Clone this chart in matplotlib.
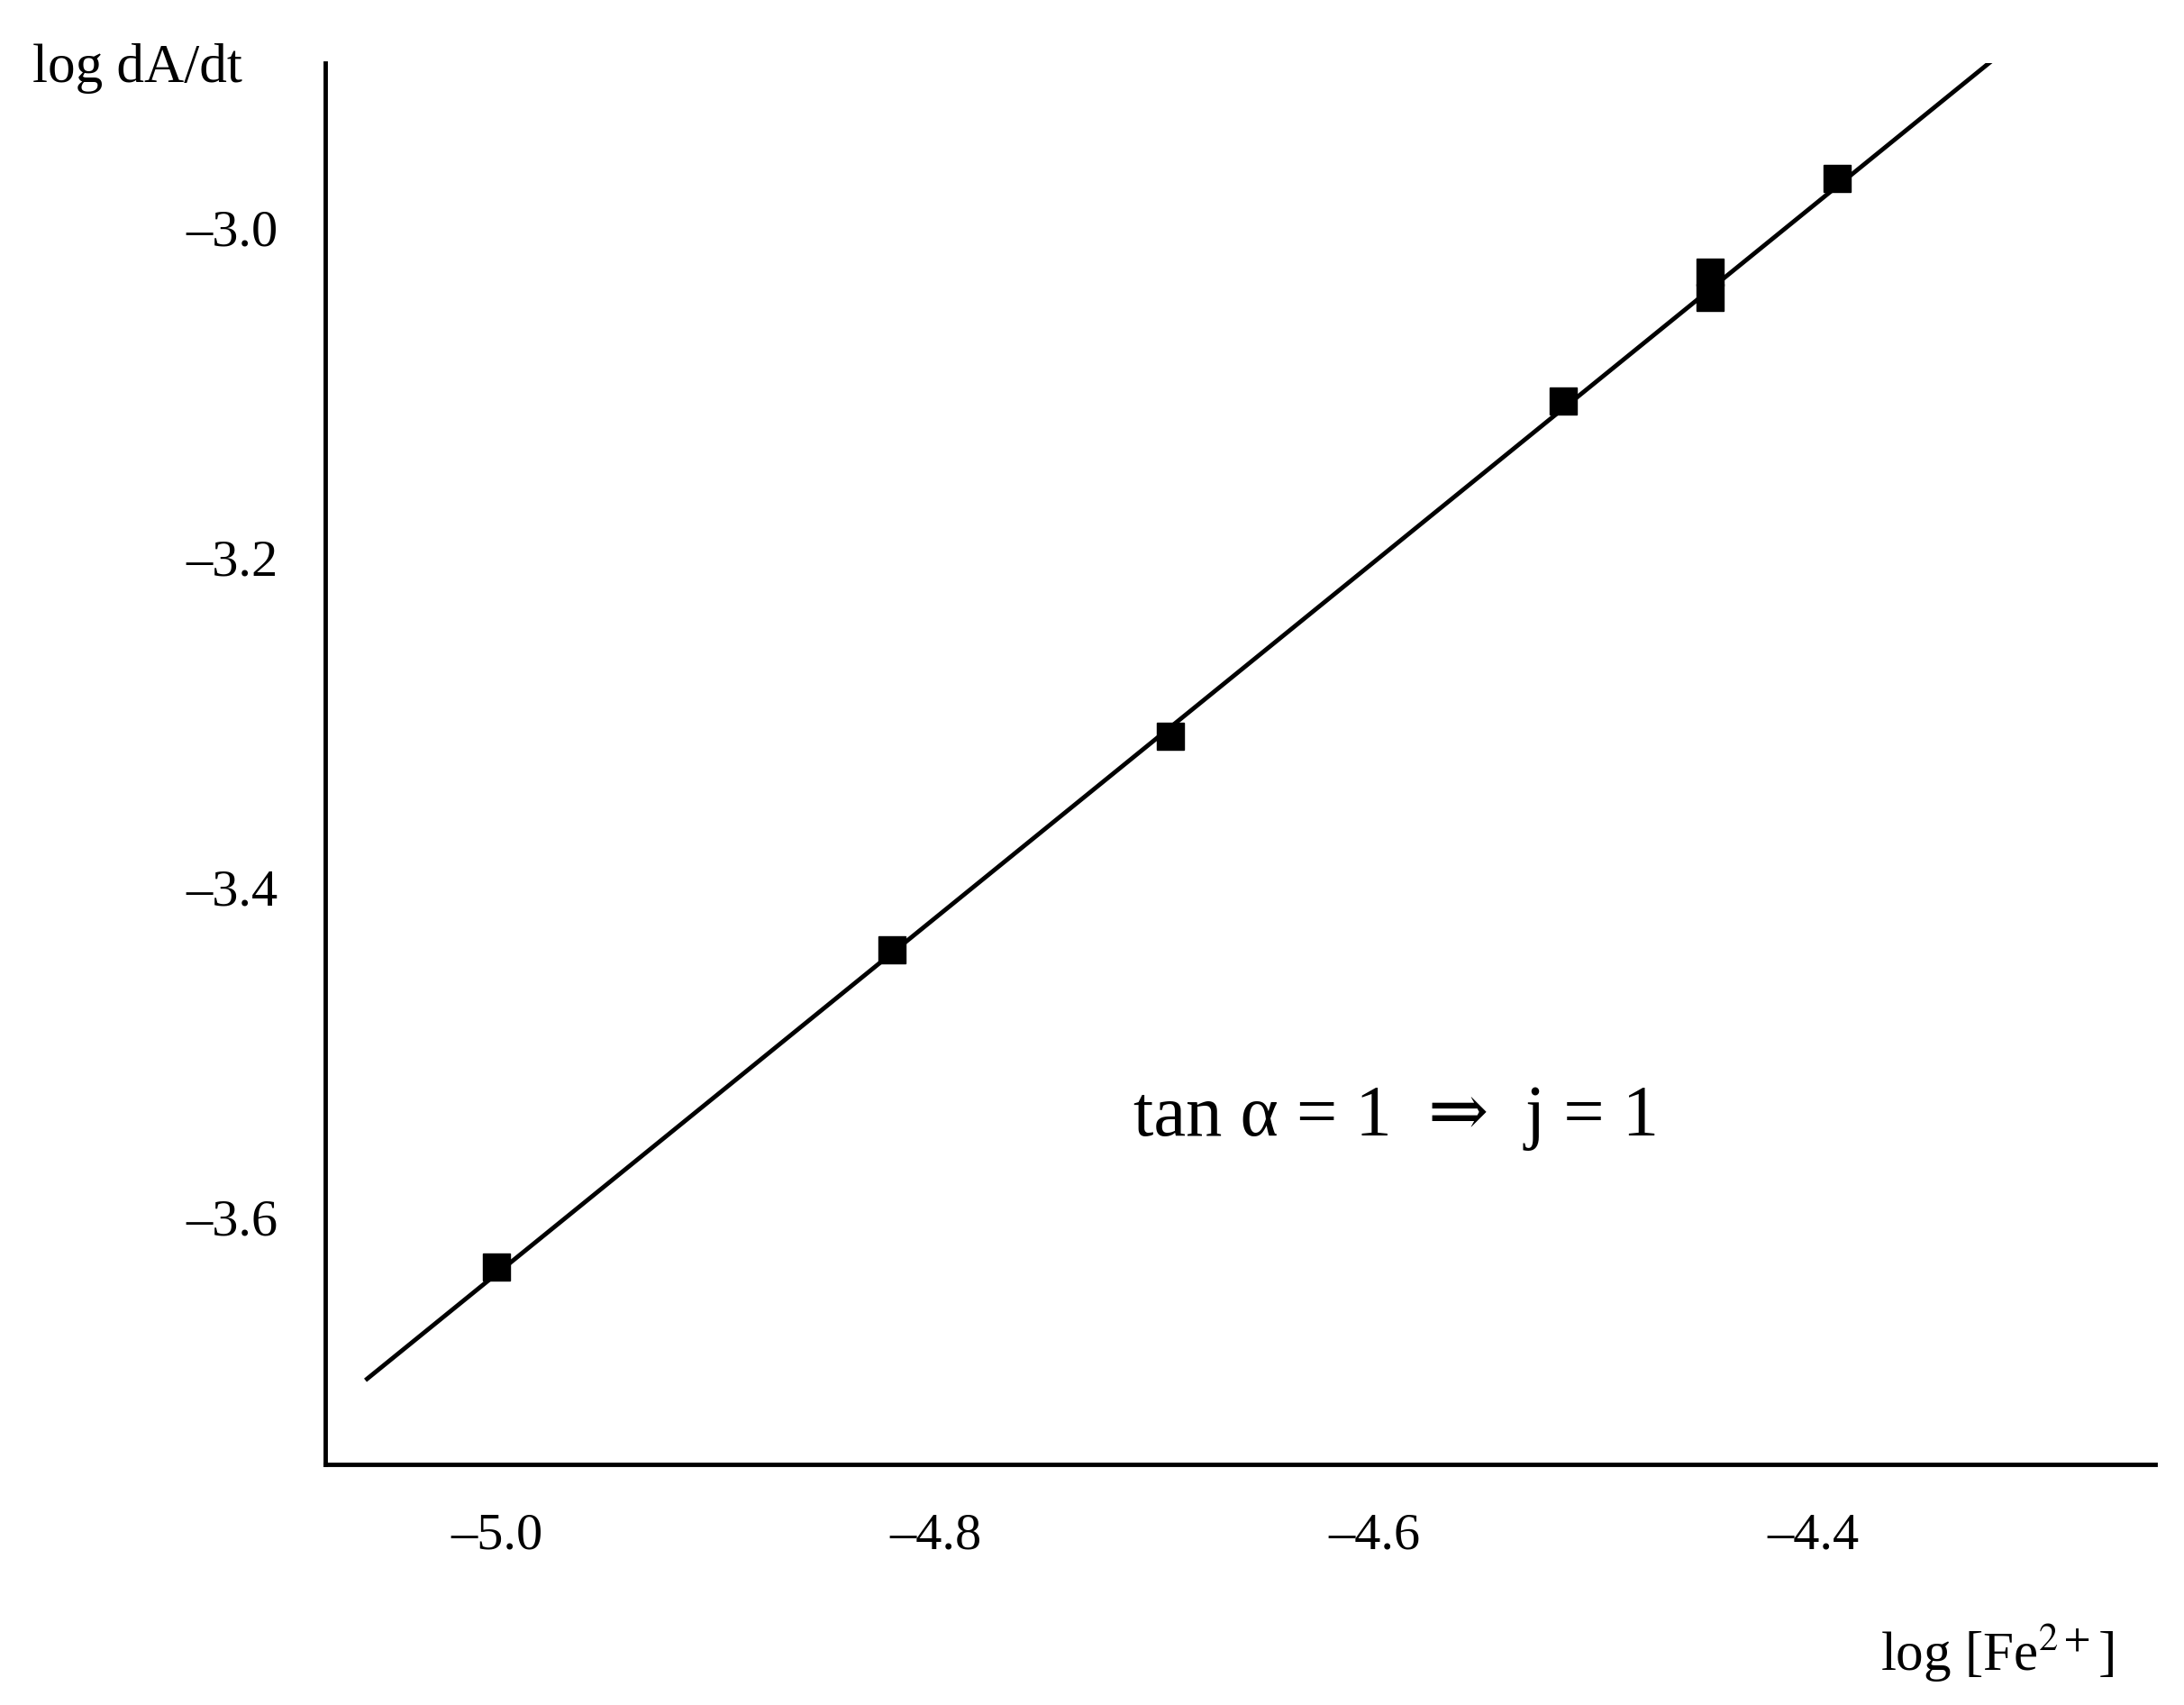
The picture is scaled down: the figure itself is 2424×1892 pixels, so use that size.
import matplotlib
matplotlib.use("Agg")
from matplotlib import pyplot as plt

plt.rcParams["font.family"] = ["Liberation Serif", "DejaVu Serif"]

# measured points
log_fe = [-5.0, -4.82, -4.693, -4.514, -4.447, -4.447, -4.389]
log_rate = [-3.63, -3.438, -3.308, -3.105, -3.027, -3.042, -2.970]
# fitted line end points
fit_x = [-5.059, -4.319]
fit_y = [-3.698, -2.899]

x_ticks = [-5.0, -4.8, -4.6, -4.4]
y_ticks = [-3.6, -3.4, -3.2, -3.0]

fig = plt.figure(figsize=(24.24, 18.92), dpi=100)
ax = fig.add_axes([0.149, 0.141, 0.838, 0.822])
ax.plot(fit_x, fit_y, color="black", linewidth=3.5)
ax.plot(log_fe, log_rate, linestyle="none", marker="s", markersize=22, color="black")

ax.set_xlim(-5.078, -4.244)
ax.set_ylim(-3.75, -2.90)
ax.set_xticks(x_ticks)
ax.set_xticklabels(["\u20135.0", "\u20134.8", "\u20134.6", "\u20134.4"])
ax.set_yticks(y_ticks)
ax.set_yticklabels(["\u20133.6", "\u20133.4", "\u20133.2", "\u20133.0"])
ax.tick_params(length=0, labelsize=42, pad=38)
for side in ("top", "right"):
    ax.spines[side].set_visible(False)
for side in ("left", "bottom"):
    ax.spines[side].set_linewidth(3.5)

fig.text(0.015, 0.96, "log dA/dt", fontsize=44, ha="left", va="center")
fig.text(0.968, 0.03, "log [Fe$^{2+}$]", fontsize=44, ha="right", va="center",
         math_fontfamily="stix")
ax.text(-4.59, -3.54, "tan \u03b1 = 1  \u21d2  j = 1", fontsize=58, ha="center", va="center")

fig.savefig("out.png", dpi=100)
